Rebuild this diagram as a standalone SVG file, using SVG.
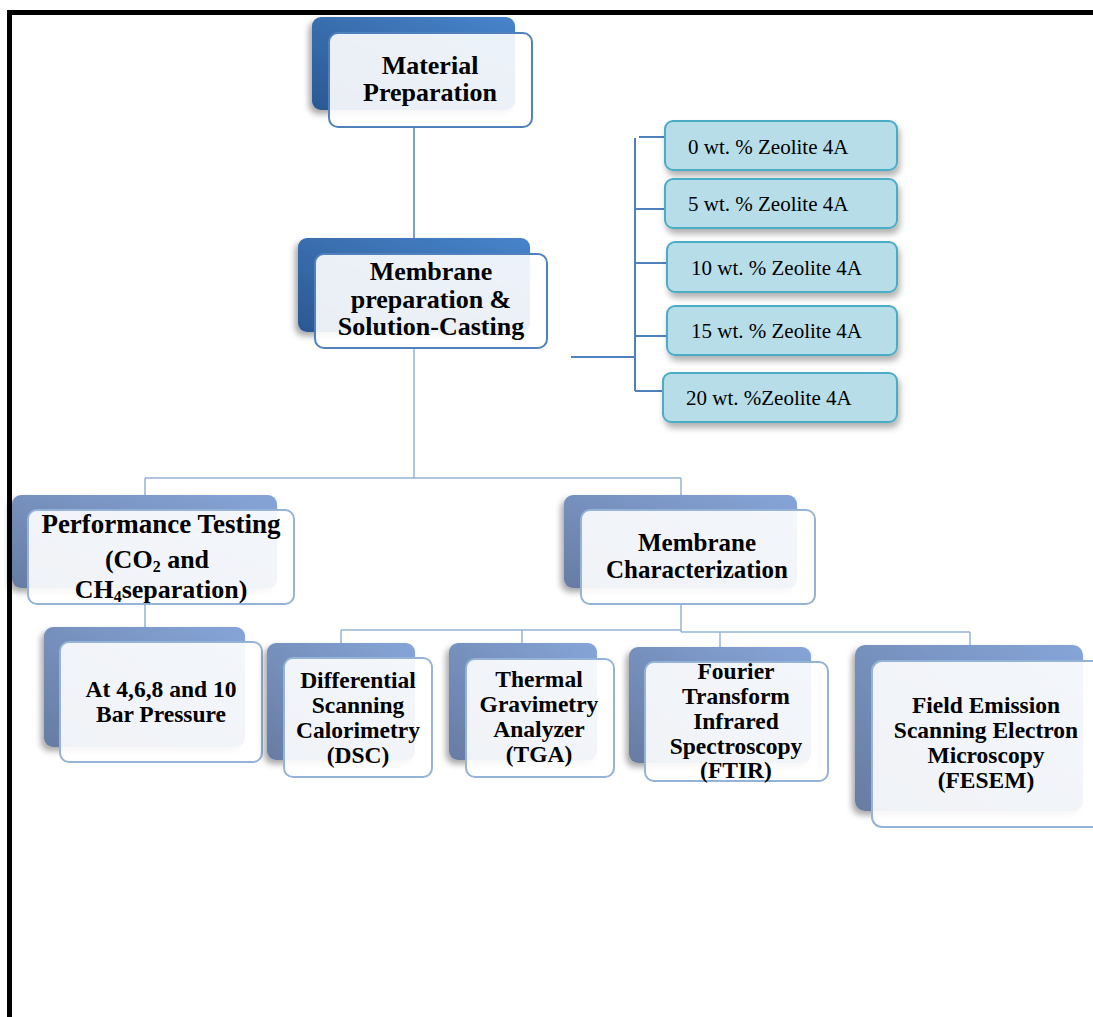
<svg xmlns="http://www.w3.org/2000/svg" width="1093" height="1017" viewBox="0 0 1093 1017">
<defs>
<linearGradient id="gTop" x1="1" y1="0" x2="0" y2="1">
<stop offset="0" stop-color="#4784cb"/>
<stop offset="1" stop-color="#2b5892"/>
</linearGradient>
<linearGradient id="gLow" x1="1" y1="0" x2="0" y2="1">
<stop offset="0" stop-color="#86a5d8"/>
<stop offset="1" stop-color="#677ca3"/>
</linearGradient>
<filter id="sh" x="-20%" y="-20%" width="140%" height="140%">
<feDropShadow dx="-3" dy="4" stdDeviation="3" flood-color="#000" flood-opacity="0.35"/>
</filter>
<filter id="shz" x="-20%" y="-30%" width="140%" height="170%">
<feDropShadow dx="2" dy="5" stdDeviation="3" flood-color="#000" flood-opacity="0.3"/>
</filter>
<style>
.backT{fill:url(#gTop);filter:url(#sh)}
.backL{fill:url(#gLow);filter:url(#sh)}
.frontT{fill:#fff;fill-opacity:0.9;stroke:#4f81bd;stroke-width:2}
.frontL{fill:#fff;fill-opacity:0.9;stroke:#95b3d7;stroke-width:2}
.zeo{fill:#b7dee8;stroke:#4bacc6;stroke-width:2;filter:url(#shz)}
.tb{font-family:"Liberation Serif","Times New Roman",serif;font-weight:bold;font-size:26px;fill:#000;text-anchor:middle}
.ts{font-family:"Liberation Serif","Times New Roman",serif;font-weight:bold;font-size:23.5px;fill:#000;text-anchor:middle}
.tz{font-family:"Liberation Serif","Times New Roman",serif;font-size:21px;fill:#000}
.cT{stroke:#4f81bd;stroke-width:1.5;fill:none}
.cZ{stroke:#4f81bd;stroke-width:2;fill:none}
.cL{stroke:#95b3d7;stroke-width:1.5;fill:none}
</style>
</defs>
<rect width="1093" height="1017" fill="#fff"/>
<path d="M9.5,1017 V12.5 H1093" fill="none" stroke="#000" stroke-width="5"/>

<g id="connectors">
<path class="cT" d="M414,127 V255"/>
<path class="cL" d="M414,348 V478 M145,478 H681 M145,478 V495 M681,478 V495"/>
<path class="cZ" d="M571,357 H635 M635,138 V391 M639,137 H668 M635,209 H665 M635,263 H667 M635,336 H667 M635,391 H663"/>
<path class="cL" d="M145,604 V627"/>
<path class="cL" d="M681,604 V632 M341,630 H681 M681,632 H970 M341,630 V643 M522,630 V643 M720,632 V647 M970,632 V645"/>
</g>

<g id="material-preparation">
<rect class="backT" x="312" y="17" width="203" height="93" rx="9"/>
<rect class="frontT" x="329" y="33" width="203" height="94" rx="9"/>
<text class="tb" x="430" y="74">Material</text>
<text class="tb" x="430" y="101">Preparation</text>
</g>

<g id="membrane-preparation">
<rect class="backT" x="298" y="238" width="232" height="94" rx="9"/>
<rect class="frontT" x="315" y="254" width="232" height="94" rx="9"/>
<text class="tb" x="431" y="280">Membrane</text>
<text class="tb" x="431" y="308">preparation &amp;</text>
<text class="tb" x="431" y="335">Solution-Casting</text>
</g>

<g id="zeolite-0">
<rect class="zeo" x="665" y="121" width="232" height="49" rx="8"/>
<text class="tz" x="688" y="154">0 wt. % Zeolite 4A</text>
</g>
<g id="zeolite-5">
<rect class="zeo" x="665" y="179" width="232" height="49" rx="8"/>
<text class="tz" x="688" y="211">5 wt. % Zeolite 4A</text>
</g>
<g id="zeolite-10">
<rect class="zeo" x="667" y="242" width="230" height="50" rx="8"/>
<text class="tz" x="691" y="275">10 wt. % Zeolite 4A</text>
</g>
<g id="zeolite-15">
<rect class="zeo" x="667" y="306" width="230" height="49" rx="8"/>
<text class="tz" x="691" y="338">15 wt. % Zeolite 4A</text>
</g>
<g id="zeolite-20">
<rect class="zeo" x="663" y="373" width="234" height="49" rx="8"/>
<text class="tz" x="686" y="405">20 wt. %Zeolite 4A</text>
</g>

<g id="performance-testing">
<rect class="backL" x="12" y="495" width="265" height="93" rx="9"/>
<rect class="frontL" x="28" y="510" width="266" height="94" rx="9"/>
<text class="tb" x="161" y="533" style="font-size:27px">Performance Testing</text>
<text class="tb" x="157" y="568">(CO<tspan font-size="16" dy="4">2</tspan><tspan dy="-4"> and</tspan></text>
<text class="tb" x="161" y="598">CH<tspan font-size="16" dy="4">4</tspan><tspan dy="-4">separation)</tspan></text>
</g>

<g id="pressure">
<rect class="backL" x="44" y="627" width="201" height="120" rx="9"/>
<rect class="frontL" x="60" y="642" width="202" height="120" rx="9"/>
<text class="ts" x="161" y="697">At 4,6,8 and 10</text>
<text class="ts" x="161" y="722">Bar Pressure</text>
</g>

<g id="membrane-characterization">
<rect class="backL" x="564" y="495" width="233" height="93" rx="9"/>
<rect class="frontL" x="581" y="510" width="234" height="94" rx="9"/>
<text class="tb" x="697" y="551" style="font-size:25px">Membrane</text>
<text class="tb" x="697" y="578" style="font-size:25px">Characterization</text>
</g>

<g id="dsc">
<rect class="backL" x="267" y="643" width="148" height="117" rx="9"/>
<rect class="frontL" x="284" y="658" width="148" height="119" rx="9"/>
<text class="ts" x="358" y="688">Differential</text>
<text class="ts" x="358" y="713">Scanning</text>
<text class="ts" x="358" y="738">Calorimetry</text>
<text class="ts" x="358" y="763">(DSC)</text>
</g>

<g id="tga">
<rect class="backL" x="449" y="643" width="148" height="117" rx="9"/>
<rect class="frontL" x="466" y="659" width="148" height="118" rx="9"/>
<text class="ts" x="539" y="687">Thermal</text>
<text class="ts" x="539" y="712">Gravimetry</text>
<text class="ts" x="539" y="737">Analyzer</text>
<text class="ts" x="539" y="762">(TGA)</text>
</g>

<g id="ftir">
<rect class="backL" x="629" y="647" width="182" height="116" rx="9"/>
<rect class="frontL" x="645" y="662" width="183" height="119" rx="9"/>
<text class="ts" x="736" y="679">Fourier</text>
<text class="ts" x="736" y="704">Transform</text>
<text class="ts" x="736" y="729">Infrared</text>
<text class="ts" x="736" y="754">Spectroscopy</text>
<text class="ts" x="736" y="778">(FTIR)</text>
</g>

<g id="fesem">
<rect class="backL" x="855" y="645" width="228" height="166" rx="10"/>
<rect class="frontL" x="872" y="661" width="230" height="166" rx="10"/>
<text class="ts" x="986" y="713">Field Emission</text>
<text class="ts" x="986" y="738">Scanning Electron</text>
<text class="ts" x="986" y="763">Microscopy</text>
<text class="ts" x="986" y="788">(FESEM)</text>
</g>
</svg>
